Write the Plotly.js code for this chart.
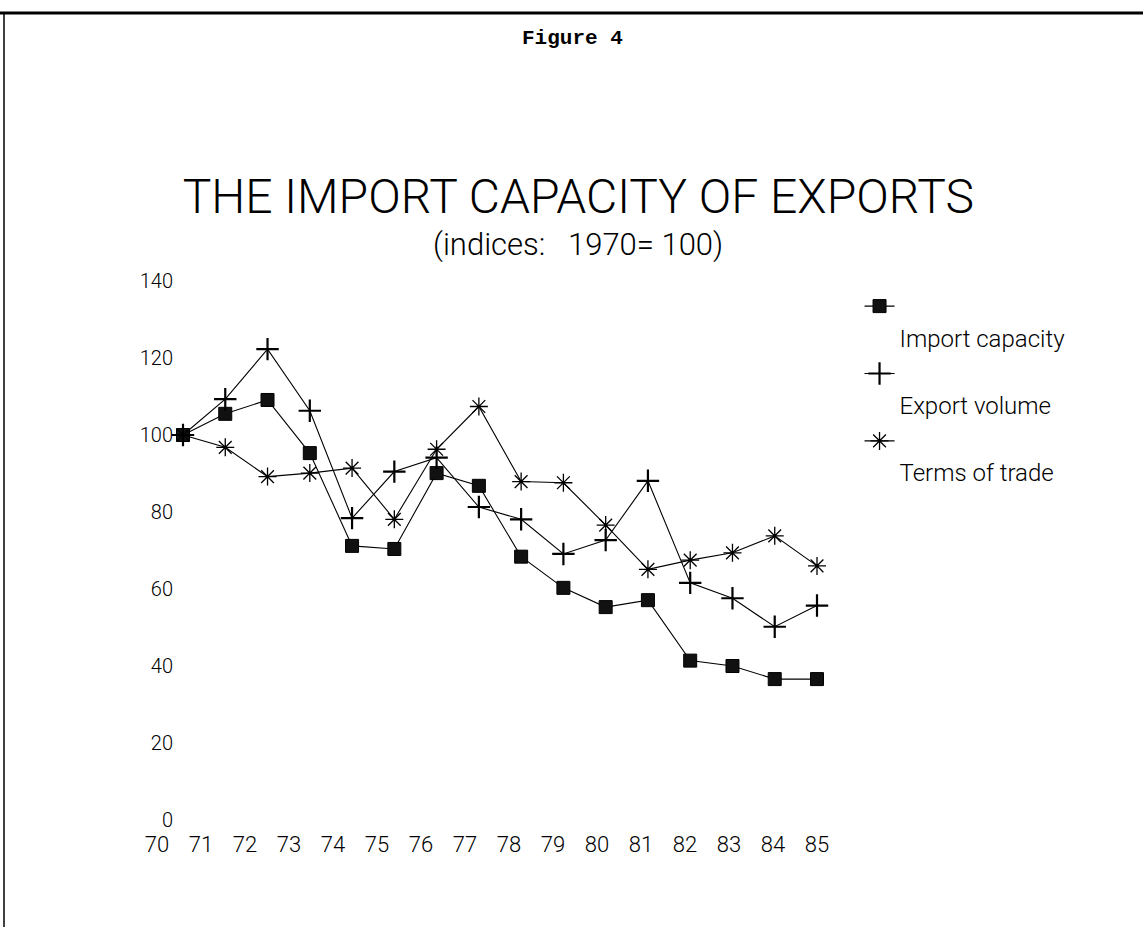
<!DOCTYPE html>
<html>
<head>
<meta charset="utf-8">
<script src="https://cdn.plot.ly/plotly-3.0.1.min.js"></script>
<style>
  html, body { margin: 0; padding: 0; background: #fff; }
  #chart { width: 1143px; height: 927px; }
</style>
</head>
<body>
<div id="chart"></div>
<script>
// ---- data (indices: 1970 = 100) ----
const years = [70, 71, 72, 73, 74, 75, 76, 77, 78, 79, 80, 81, 82, 83, 84, 85];
const yearLabels = ["70","71","72","73","74","75","76","77","78","79","80","81","82","83","84","85"];
const importCapacity = [100, 105.5, 109.1, 95.3, 71.2, 70.4, 90.1, 86.8, 68.4, 60.3, 55.3, 57.1, 41.4, 40.0, 36.6, 36.6];
const exportVolume   = [100, 109.3, 122.3, 106.3, 78.4, 90.5, 94.1, 81.3, 78.1, 69.1, 72.7, 88.1, 61.6, 57.6, 50.2, 55.7];
const termsOfTrade   = [100, 96.8, 89.2, 90.1, 91.4, 78.1, 96.3, 107.4, 87.9, 87.6, 76.6, 65.1, 67.5, 69.4, 73.8, 66.0];
const yTicks = [0, 20, 40, 60, 80, 100, 120, 140];
const seriesNames = ["Import capacity", "Export volume", "Terms of trade"];

const thin = "Roboto, DejaVu Sans, sans-serif";
const thinW = 300;

// plot-area geometry (pixels)
const L = 135, R = 830, T = 281, B = 820;
const W = 1143, H = 927;
const pxPerYear = 42.27;          // spacing of the plotted years
const labelStep = 44;             // spacing of the printed year labels
const labelShift = -26;           // printed labels start left of the first point

const base = {
  type: "scatter",
  mode: "lines+markers",
  x: years,
  line: { color: "#000", width: 1.1 }
};

const traces = [
  Object.assign({}, base, {
    y: importCapacity,
    name: "\u00a0<br>" + seriesNames[0],
    legendgroup: "a",
    marker: { symbol: "square", size: 13, color: "#111", line: { color: "#000", width: 1 } }
  }),
  Object.assign({}, base, {
    y: exportVolume,
    name: "\u00a0<br>" + seriesNames[1],
    legendgroup: "b",
    marker: { symbol: "cross-thin-open", size: 16, color: "#000", line: { color: "#000", width: 2.2 } }
  }),
  Object.assign({}, base, {
    y: termsOfTrade,
    name: "\u00a0<br>" + seriesNames[2],
    legendgroup: "c",
    marker: { symbol: "asterisk-open", size: 15, color: "#000", line: { color: "#000", width: 1.3 } }
  })
];

const px2x = p => (p - L) / (R - L);
const py2y = p => (B - p) / (B - T);

const layout = {
  width: W,
  height: H,
  paper_bgcolor: "#fff",
  plot_bgcolor: "#fff",
  margin: { l: L, r: W - R, t: T, b: H - B, pad: 0 },
  showlegend: true,
  legend: {
    xref: "container", yref: "container",
    x: 0.752, y: 1 - 284 / H, xanchor: "left", yanchor: "top",
    valign: "top",
    tracegroupgap: 2,
    font: { family: thin, weight: thinW, size: 24, color: "#000" },
    bgcolor: "rgba(0,0,0,0)"
  },
  title: {
    text: "THE IMPORT CAPACITY OF EXPORTS",
    font: { family: thin, weight: thinW, size: 48, color: "#000" },
    xref: "container", yref: "container",
    x: 0.506, y: 1 - 196 / H, xanchor: "center", yanchor: "middle"
  },
  annotations: [
    {
      text: "(indices:\u00a0\u00a0 1970=\u00a0100)",
      xref: "paper", yref: "paper",
      x: px2x(578), y: py2y(245),
      xanchor: "center", yanchor: "middle", showarrow: false,
      font: { family: thin, weight: thinW, size: 31, color: "#000" }
    },
    {
      text: "Figure 4",
      xref: "paper", yref: "paper",
      x: px2x(572), y: py2y(38),
      xanchor: "center", yanchor: "middle", showarrow: false,
      font: { family: "Liberation Mono, DejaVu Sans Mono, monospace", weight: 700, size: 21, color: "#000" }
    }
  ],
  shapes: [
    { type: "line", xref: "paper", yref: "paper",
      x0: px2x(0), x1: px2x(W), y0: py2y(13), y1: py2y(13),
      line: { color: "#000", width: 3 } },
    { type: "line", xref: "paper", yref: "paper",
      x0: px2x(4), x1: px2x(4), y0: py2y(13), y1: py2y(H),
      line: { color: "#000", width: 1.5 } }
  ],
  xaxis: {
    range: [70 - (183 - L) / pxPerYear, 85 + (R - 817) / pxPerYear],
    tickmode: "array",
    tickvals: years.map((y, i) => 70 + (labelShift + i * labelStep) / pxPerYear),
    ticktext: yearLabels,
    showgrid: false, zeroline: false, showline: false, ticks: "",
    tickfont: { family: thin, weight: thinW, size: 22, color: "#000" },
    ticklabelstandoff: 9,
    fixedrange: true
  },
  yaxis: {
    range: [0, 140],
    anchor: "free",
    position: px2x(174),
    tickmode: "array",
    tickvals: yTicks,
    ticktext: yTicks.map(String),
    showgrid: false, zeroline: false, showline: false, ticks: "",
    tickfont: { family: thin, weight: thinW, size: 20, color: "#000" },
    ticklabelstandoff: 1,
    fixedrange: true
  }
};

Plotly.newPlot("chart", traces, layout, { displayModeBar: false, staticPlot: true });
</script>
</body>
</html>
